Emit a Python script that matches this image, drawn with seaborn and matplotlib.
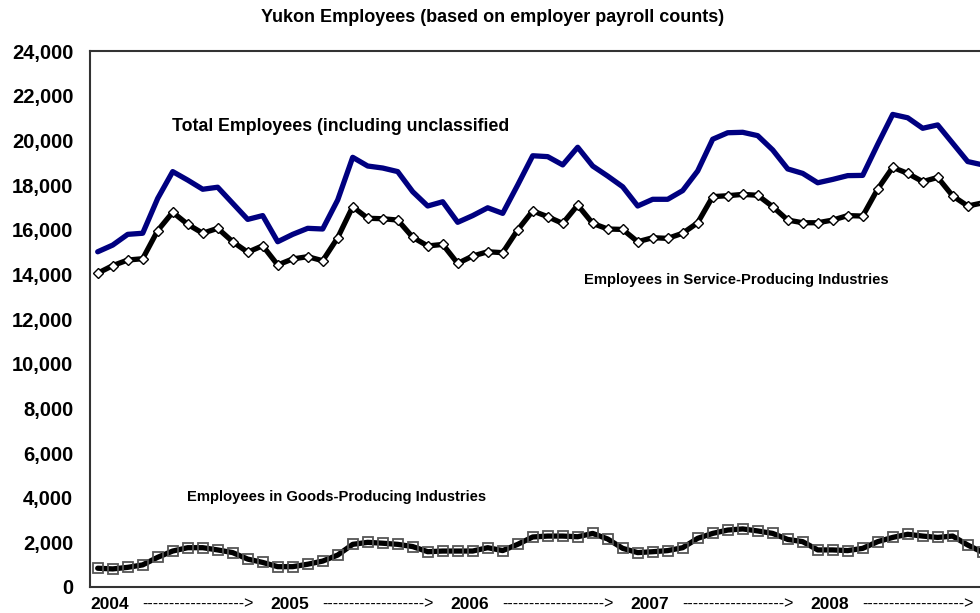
import matplotlib.pyplot as plt
import seaborn as sns
import numpy as np
import pandas as pd

# monthly series, Jan 2004 - Dec 2008
total = [15010, 15310, 15790, 15840, 17400, 18600, 18220, 17810, 17900, 17180, 16460, 16630,
         15460, 15790, 16060, 16030, 17330, 19240, 18850, 18760, 18600, 17700, 17060, 17250,
         16330, 16630, 16980, 16730, 18000, 19310, 19270, 18900, 19690, 18850, 18400, 17920,
         17060, 17360, 17360, 17750, 18630, 20050, 20340, 20360, 20210, 19570, 18720, 18520,
         18100, 18250, 18420, 18430, 19820, 21160, 21010, 20540, 20690, 19870, 19050, 18900]
service = [14050, 14390, 14640, 14700, 15960, 16780, 16240, 15840, 16060, 15460, 14990, 15280,
           14420, 14690, 14790, 14610, 15640, 17030, 16510, 16490, 16430, 15660, 15270, 15340,
           14490, 14820, 15010, 14970, 15990, 16840, 16580, 16280, 17100, 16280, 16030, 16010,
           15460, 15640, 15610, 15840, 16310, 17480, 17520, 17580, 17540, 17030, 16430, 16310,
           16310, 16430, 16630, 16610, 17820, 18790, 18520, 18150, 18340, 17510, 17060, 17200]
goods = [840, 810, 880, 990, 1330, 1610, 1760, 1760, 1660, 1540, 1250, 1100,
         910, 910, 1020, 1160, 1430, 1910, 2000, 1960, 1910, 1810, 1580, 1610,
         1610, 1610, 1760, 1630, 1910, 2240, 2280, 2280, 2250, 2400, 2150, 1730,
         1540, 1580, 1630, 1760, 2180, 2400, 2550, 2600, 2510, 2400, 2130, 2030,
         1660, 1660, 1630, 1730, 2030, 2220, 2360, 2280, 2220, 2280, 1880, 1550]
years = ['2004', '2005', '2006', '2007', '2008']
arrow = '------------------->'

df = pd.DataFrame({'month': np.arange(len(total)), 'total': total,
                   'service': service, 'goods': goods})

sns.set_style('white')
plt.rcParams['font.family'] = ['Liberation Sans', 'DejaVu Sans']
plt.rcParams['text.color'] = 'black'
plt.rcParams['xtick.color'] = 'black'
plt.rcParams['ytick.color'] = 'black'

fig = plt.figure(figsize=(9.8, 6.13), dpi=100)
ax = fig.add_axes([90 / 980, 1 - 587 / 613, 1 - 90 / 980, (587 - 51) / 613])

sns.lineplot(data=df, x='month', y='total', color='#000080', linewidth=3.8, ax=ax)
sns.lineplot(data=df, x='month', y='service', color='black', linewidth=3.8, marker='D',
             markersize=5, markerfacecolor='white', markeredgecolor='black',
             markeredgewidth=1, ax=ax)
sns.lineplot(data=df, x='month', y='goods', color='black', linewidth=3.8, marker='s',
             markersize=7, markerfacecolor='none', markeredgecolor='#555555',
             markeredgewidth=1.3, ax=ax)

ax.set_xlim(-7.7 / 15, -7.7 / 15 + 890 / 15)
ax.set_ylim(0, 24000)
ax.set_yticks(np.arange(0, 24001, 2000))
ax.set_yticklabels([f'{v:,}' for v in range(0, 24001, 2000)], fontsize=14.5, fontweight='bold')

year_pos = np.arange(len(years)) * 12 + 0.8
arrow_pos = np.arange(len(years)) * 12 + 6.7
ax.set_xticks(np.concatenate([year_pos, arrow_pos]))
ax.set_xticklabels(years + [arrow] * len(years))
for lab in ax.get_xticklabels():
    if lab.get_text() in years:
        lab.set_fontsize(12.5)
        lab.set_fontweight('bold')
    else:
        lab.set_fontsize(11.5)
ax.tick_params(axis='x', length=0, pad=7)
ax.tick_params(axis='y', length=0, pad=12)
ax.set_xlabel('')
ax.set_ylabel('')

for side in ['left', 'top', 'bottom']:
    ax.spines[side].set_color('#333333')
    ax.spines[side].set_linewidth(1.5)
ax.spines['right'].set_visible(False)

ax.text(4.95, 20640, 'Total Employees (including unclassified', fontsize=12.8,
        fontweight='bold', ha='left', va='center')
ax.text(32.4, 13745, 'Employees in Service-Producing Industries', fontsize=10.6,
        fontweight='bold', ha='left', va='center')
ax.text(5.95, 4030, 'Employees in Goods-Producing Industries', fontsize=10.6,
        fontweight='bold', ha='left', va='center')

fig.text(0.503, 1 - 17 / 613, 'Yukon Employees (based on employer payroll counts)',
         fontsize=13, fontweight='bold', ha='center', va='center')

plt.savefig('out.png', dpi=100)
plt.close()
